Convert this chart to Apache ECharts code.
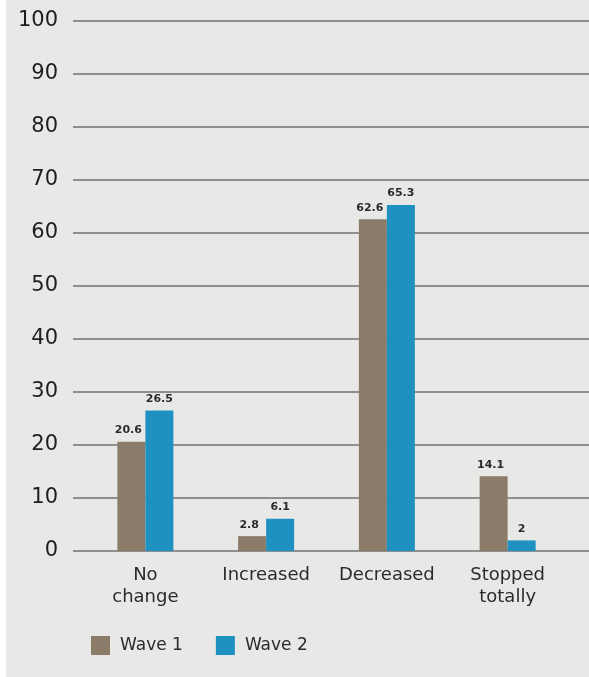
<!DOCTYPE html>
<html>
<head>
<meta charset="utf-8">
<script src="https://cdn.jsdelivr.net/npm/echarts@6/dist/echarts.min.js"></script>
<style>
  html, body { margin: 0; padding: 0; background: #fff; }
  #chart { position: absolute; left: 6px; top: 0; width: 583px; height: 677px; background: #e8e9e6; }
</style>
</head>
<body>
<div id="chart"></div>
<script>
// 两轮调查对比:分组柱状图
const categories = ["No\nchange", "Increased", "Decreased", "Stopped\ntotally"];
const wave1 = [20.6, 2.8, 62.6, 14.1];
const wave2 = [26.5, 6.1, 65.3, 2];
const yTicks = { min: 0, max: 100, interval: 10 };

const font = "'DejaVu Sans', sans-serif";
const labelStyle = { show: true, position: "top", fontSize: 11, fontWeight: "bold", color: "#2b2b2b", fontFamily: font, distance: 6 };

const chart = echarts.init(document.getElementById("chart"));
chart.setOption({
  animation: false,
  textStyle: { fontFamily: font },
  grid: [
    { left: 67, right: 0, top: 21, bottom: 126 },
    { left: 79, right: 21, top: 21, bottom: 126 },
  ],
  legend: {
    left: 85, top: 636, padding: 0, itemWidth: 19, itemHeight: 19, itemGap: 33,
    icon: "rect",
    textStyle: { fontSize: 17, color: "#2b2b2b", fontFamily: font, padding: [0, 0, 0, 5] },
    data: ["Wave 1", "Wave 2"],
  },
  xAxis: [
    { gridIndex: 0, type: "category", data: categories, show: false },
    {
      gridIndex: 1, type: "category", data: categories,
      axisLine: { show: false }, axisTick: { show: false },
      axisLabel: { interval: 0, hideOverlap: false, fontSize: 18, color: "#2b2b2b", margin: 13, lineHeight: 22, fontFamily: font },
    },
  ],
  yAxis: [
    {
      gridIndex: 0, type: "value", ...yTicks,
      axisLine: { show: false }, axisTick: { show: false },
      axisLabel: { fontSize: 21, color: "#1e1e1e", margin: 15, fontFamily: font },
      splitLine: { lineStyle: { color: "#8e8f8e", width: 2 } },
    },
    { gridIndex: 1, type: "value", ...yTicks, show: false, splitLine: { show: false } },
  ],
  series: [
    {
      name: "Wave 1", type: "bar", xAxisIndex: 1, yAxisIndex: 1, data: wave1,
      barWidth: 28, barGap: "0%", itemStyle: { color: "#8b7b69" },
      label: { ...labelStyle, offset: [-3, 0] },
    },
    {
      name: "Wave 2", type: "bar", xAxisIndex: 1, yAxisIndex: 1, data: wave2,
      barWidth: 28, barGap: "0%", itemStyle: { color: "#1f91c1" }, label: labelStyle,
    },
  ],
});
</script>
</body>
</html>
